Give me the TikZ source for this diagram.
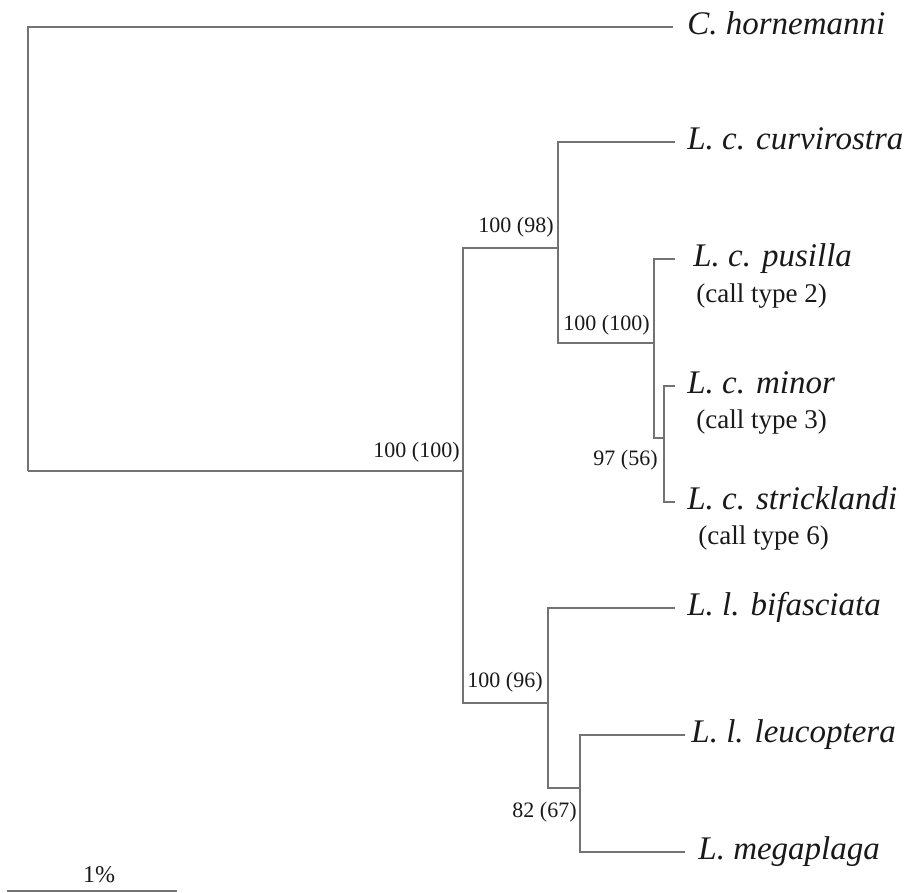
\documentclass[tikz,border=0pt]{standalone}
\usepackage{fontspec}
\setmainfont{Liberation Serif}
\usetikzlibrary{positioning}
\definecolor{branchgray}{gray}{0.45}
\definecolor{labelblack}{gray}{0.1}
\tikzset{branch/.style={draw=branchgray, line width=1pt}}
\tikzset{taxon/.style={inner sep=0pt, text=labelblack, text height=11.5pt, text depth=3.5pt,
    font=\fontsize{16.5}{18}\selectfont\itshape}}
\tikzset{calltype/.style={inner sep=0pt, anchor=west, text=labelblack, text height=9pt, text depth=2.5pt,
    font=\fontsize{13.5}{15}\selectfont}}
\tikzset{boot/.style={inner sep=0pt, anchor=east, text=labelblack, text height=7.5pt, text depth=0pt,
    font=\fontsize{11}{12}\selectfont}}

\begin{document}
\begin{tikzpicture}[x=0.5pt,y=-0.5pt]
  \useasboundingbox (0,0) rectangle (907,893);

  % internal nodes
  \coordinate (root) at (28,471);
  \coordinate (nA) at (463,471);
  \coordinate (nB) at (558,248);
  \coordinate (nC) at (654,343);
  \coordinate (nD) at (664,438);
  \coordinate (nE) at (548,703);
  \coordinate (nF) at (580,788);

  % tips
  \coordinate (horn) at (673,27);
  \coordinate (curv) at (675,142);
  \coordinate (pusi) at (675,259);
  \coordinate (mino) at (675,386);
  \coordinate (stri) at (675,502);
  \coordinate (bifa) at (675,608);
  \coordinate (leuc) at (685,735);
  \coordinate (mega) at (685,852);

  \draw[branch] (root) |- (horn);
  \draw[branch] (root) -- (nA);
  \draw[branch] (nA) |- (nB);
  \draw[branch] (nA) |- (nE);
  \draw[branch] (nB) |- (curv);
  \draw[branch] (nB) |- (nC);
  \draw[branch] (nC) |- (pusi);
  \draw[branch] (nC) |- (nD);
  \draw[branch] (nD) |- (mino);
  \draw[branch] (nD) |- (stri);
  \draw[branch] (nE) |- (bifa);
  \draw[branch] (nE) |- (nF);
  \draw[branch] (nF) |- (leuc);
  \draw[branch] (nF) |- (mega);

  \node[taxon, right=7pt of horn] (hornlab) {C. hornemanni};
  \node[taxon, right=6pt of curv] (curvlab) {L. c. curvirostra};
  \node[taxon, right=9pt of pusi] (pusilab) {L. c. pusilla};
  \node[taxon, right=6pt of mino] (minolab) {L. c. minor};
  \node[taxon, right=6pt of stri] (strilab) {L. c. stricklandi};
  \node[taxon, right=6pt of bifa] (bifalab) {L. l. bifasciata};
  \node[taxon, right=3pt of leuc] (leuclab) {L. l. leucoptera};
  \node[taxon, right=6.5pt of mega] (megalab) {L. megaplaga};

  \node[calltype] (call2) at (696,296) {(call type 2)};
  \node[calltype] (call3) at (696,422) {(call type 3)};
  \node[calltype] (call6) at (698,538) {(call type 6)};

  % bootstrap values
  \node[boot] (bsA) at (460,450) {100 (100)};
  \node[boot] (bsB) at (554,225) {100 (98)};
  \node[boot] (bsC) at (650,323) {100 (100)};
  \node[boot] (bsD) at (658,458) {97 (56)};
  \node[boot] (bsE) at (543,680) {100 (96)};
  \node[boot] (bsF) at (577,810) {82 (67)};

  % scale bar
  \coordinate (barL) at (7,891);
  \coordinate (barR) at (177,891);
  \draw[branch] (barL) -- (barR);
  \node[boot, anchor=center, font=\fontsize{12}{13}\selectfont] (barlab) at (99,875) {1\%};
\end{tikzpicture}
\end{document}
